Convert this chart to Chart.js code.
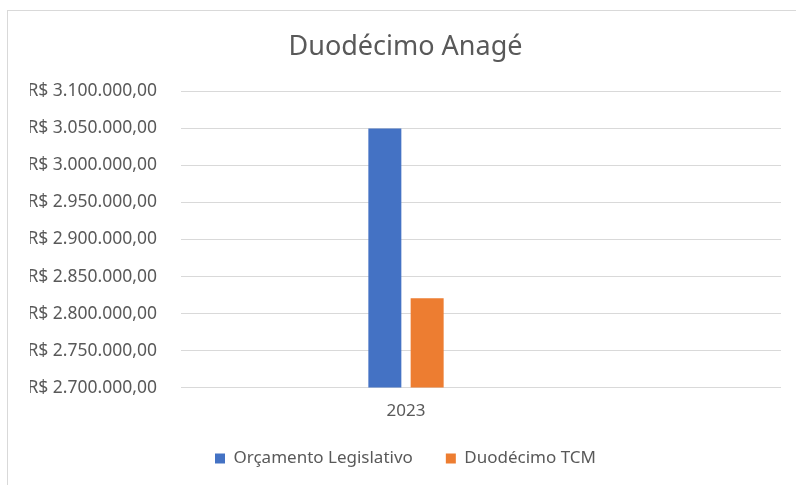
<!DOCTYPE html>
<html>
<head>
<meta charset="utf-8">
<script src="https://cdn.jsdelivr.net/npm/chart.js@4"></script>
<style>
  body { margin: 0; background: #fff; }
  #wrap { position: relative; width: 796px; height: 485px; overflow: hidden; }
  #frame { position: absolute; left: 7px; top: 10px; width: 820px; height: 500px;
           border-left: 1px solid #d9d9d9; border-top: 1px solid #d9d9d9; }
  canvas { position: absolute; left: 0; top: 0; }
</style>
</head>
<body>
<div id="wrap">
  <div id="frame"></div>
  <canvas id="chart" width="796" height="485"></canvas>
</div>
<script>
const title = 'Duodécimo Anagé';
const categories = ['2023'];
const orcamentoLegislativo = [3050000];
const duodecimoTCM = [2820600];
const yMin = 2700000;
const yMax = 3100000;
const yStep = 50000;

// Excel puts the cluster left of the plot centre; pad the category axis to match
const labels = ['', ...categories, '', ''];
const pad = (arr) => [null, ...arr, null, null];

// R$ 3.100.000,00
const brl = (v) => {
  const [int, dec] = Number(v).toFixed(2).split('.');
  return 'R$ ' + int.replace(/\B(?=(\d{3})+(?!\d))/g, '.') + ',' + dec;
};

const font = 'Noto Sans';
const grey = '#595959';

const ctx = document.getElementById('chart').getContext('2d');
new Chart(ctx, {
  type: 'bar',
  data: {
    labels: labels,
    datasets: [{
      label: 'Orçamento Legislativo',
      data: pad(orcamentoLegislativo),
      backgroundColor: '#4472C4'
    }, {
      label: 'Duodécimo TCM',
      data: pad(duodecimoTCM),
      backgroundColor: '#ED7D31'
    }]
  },
  options: {
    responsive: false,
    animation: false,
    categoryPercentage: 0.564,
    barPercentage: 0.78,
    layout: {
      padding: { left: 30, right: 15, top: 0, bottom: 8 }
    },
    scales: {
      x: {
        grid: { display: false, drawTicks: false },
        border: { display: false },
        ticks: { color: grey, font: { family: font, size: 17 }, padding: 13 }
      },
      y: {
        min: yMin,
        max: yMax,
        afterFit: (scale) => { scale.width = 151; },
        grid: { color: '#d9d9d9', drawTicks: false },
        border: { display: false },
        ticks: {
          stepSize: yStep,
          padding: 24,
          color: grey,
          font: { family: font, size: 17.5 },
          callback: (v) => brl(v)
        }
      }
    },
    plugins: {
      title: {
        display: true,
        text: title,
        color: grey,
        font: { family: font, size: 27, weight: 'normal' },
        padding: { top: 31, bottom: 28 }
      },
      legend: {
        position: 'bottom',
        labels: {
          color: grey,
          font: { family: font, size: 17 },
          boxWidth: 10,
          boxHeight: 10,
          padding: 16,
          // wider gap between the two entries, like the Excel legend
          generateLabels: (chart) => {
            const items = Chart.defaults.plugins.legend.labels.generateLabels(chart);
            items[0].text += '\u2002\u2002';
            return items;
          }
        }
      },
      tooltip: { enabled: false }
    }
  }
});
</script>
</body>
</html>
